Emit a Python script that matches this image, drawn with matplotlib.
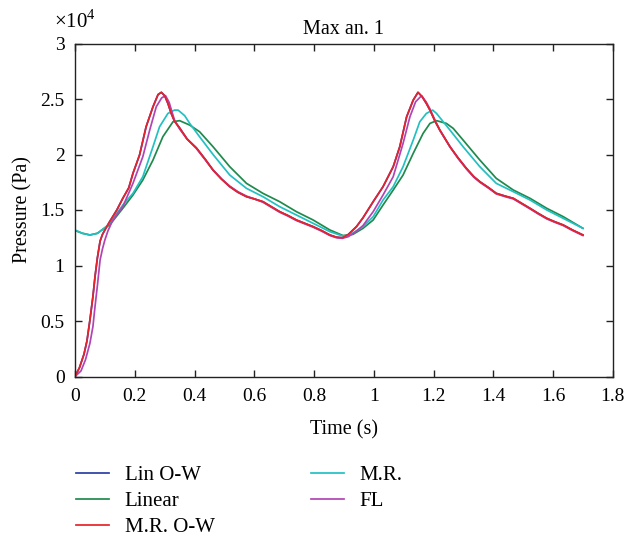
import numpy as np
import matplotlib
matplotlib.use("Agg")
import matplotlib.pyplot as plt
from matplotlib.ticker import FixedLocator

plt.rcParams['font.family'] = ['Liberation Serif', 'DejaVu Serif']
plt.rcParams['mathtext.fontset'] = 'custom'
plt.rcParams['mathtext.rm'] = 'Liberation Serif'

title = "Max an. 1"
xlabel = "Time (s)"
ylabel = "Pressure (Pa)"
series_names = ["Lin O-W", "Linear", "M.R. O-W", "M.R.", "FL"]

# M.R. O-W (values in 1e4 Pa)
t_mrow = [0, 0.015, 0.03, 0.04, 0.05, 0.06, 0.067, 0.075, 0.084, 0.092, 0.10, 0.116,
          0.14, 0.16, 0.18, 0.194, 0.216, 0.238, 0.261, 0.278, 0.289, 0.30, 0.311,
          0.322, 0.333, 0.35, 0.375, 0.406, 0.435, 0.462, 0.49, 0.518, 0.545, 0.574,
          0.60, 0.629, 0.657, 0.685, 0.713, 0.741, 0.769, 0.797, 0.825, 0.853, 0.875,
          0.895, 0.915, 0.942, 0.964, 0.998, 1.031, 1.065, 1.087, 1.11, 1.132, 1.148,
          1.162, 1.176, 1.188, 1.205, 1.221, 1.255, 1.282, 1.31, 1.335, 1.355, 1.385,
          1.41, 1.44, 1.467, 1.495, 1.523, 1.55, 1.579, 1.605, 1.634, 1.665, 1.70]
p_mrow = [0, 0.08, 0.20, 0.32, 0.51, 0.72, 0.90, 1.07, 1.22, 1.28, 1.32, 1.395,
          1.50, 1.605, 1.70, 1.83, 1.995, 2.25, 2.43, 2.54, 2.56, 2.53, 2.46,
          2.37, 2.30, 2.24, 2.14, 2.06, 1.96, 1.86, 1.78, 1.71, 1.66, 1.62,
          1.60, 1.575, 1.53, 1.485, 1.45, 1.41, 1.38, 1.35, 1.315, 1.275, 1.255,
          1.25, 1.28, 1.35, 1.43, 1.575, 1.71, 1.89, 2.07, 2.34, 2.49, 2.56,
          2.52, 2.46, 2.40, 2.30, 2.22, 2.07, 1.97, 1.875, 1.80, 1.755, 1.70,
          1.65, 1.625, 1.605, 1.56, 1.515, 1.47, 1.425, 1.395, 1.365, 1.32, 1.275]

# Lin O-W (coincides with M.R. O-W and is hidden below it)
t_linow = list(t_mrow)
p_linow = list(p_mrow)

# FL
t_fl = [0, 0.02, 0.035, 0.05, 0.06, 0.067, 0.075, 0.084, 0.092, 0.10, 0.11, 0.125,
        0.14, 0.16, 0.194, 0.227, 0.25, 0.272, 0.29, 0.303, 0.315, 0.333, 0.35,
        0.375, 0.406, 0.435, 0.462, 0.49, 0.518, 0.545, 0.574, 0.60, 0.629, 0.657,
        0.685, 0.713, 0.741, 0.769, 0.797, 0.825, 0.853, 0.875, 0.895, 0.915, 0.942,
        0.964, 0.998, 1.031, 1.065, 1.098, 1.121, 1.14, 1.16, 1.176, 1.188, 1.205,
        1.221, 1.255, 1.282, 1.31, 1.335, 1.355, 1.385, 1.41, 1.44, 1.467, 1.495,
        1.523, 1.55, 1.579, 1.605, 1.634, 1.665, 1.70]
p_fl = [0, 0.05, 0.15, 0.30, 0.45, 0.63, 0.82, 1.05, 1.15, 1.23, 1.31, 1.40,
        1.46, 1.53, 1.74, 1.98, 2.22, 2.43, 2.51, 2.53, 2.47, 2.31, 2.23,
        2.14, 2.055, 1.955, 1.86, 1.78, 1.715, 1.665, 1.625, 1.60, 1.57, 1.525,
        1.48, 1.445, 1.405, 1.375, 1.345, 1.31, 1.27, 1.25, 1.245, 1.26, 1.31,
        1.36, 1.485, 1.635, 1.80, 2.10, 2.34, 2.475, 2.53, 2.47, 2.41, 2.31,
        2.22, 2.07, 1.965, 1.87, 1.795, 1.75, 1.695, 1.645, 1.62, 1.60, 1.555,
        1.51, 1.465, 1.42, 1.39, 1.36, 1.315, 1.27]

# M.R.
t_mr = [0, 0.025, 0.05, 0.075, 0.10, 0.116, 0.16, 0.194, 0.227, 0.261, 0.283, 0.311,
        0.333, 0.345, 0.367, 0.384, 0.417, 0.462, 0.518, 0.574, 0.629, 0.685, 0.741,
        0.797, 0.853, 0.897, 0.92, 0.964, 0.998, 1.031, 1.065, 1.098, 1.132, 1.154,
        1.176, 1.197, 1.21, 1.255, 1.299, 1.355, 1.41, 1.467, 1.523, 1.579, 1.634, 1.70]
p_mr = [1.32, 1.29, 1.275, 1.29, 1.34, 1.38, 1.545, 1.65, 1.80, 2.07, 2.25, 2.37,
        2.40, 2.40, 2.35, 2.28, 2.16, 2.00, 1.815, 1.695, 1.62, 1.53, 1.455,
        1.38, 1.305, 1.265, 1.275, 1.35, 1.44, 1.59, 1.71, 1.89, 2.13, 2.295,
        2.37, 2.40, 2.37, 2.22, 2.07, 1.89, 1.74, 1.665, 1.59, 1.50, 1.425, 1.335]

# Linear
t_lin = [0, 0.025, 0.05, 0.075, 0.10, 0.116, 0.16, 0.194, 0.227, 0.261, 0.294, 0.328,
         0.35, 0.384, 0.417, 0.462, 0.518, 0.574, 0.629, 0.685, 0.741, 0.797, 0.853,
         0.897, 0.93, 0.964, 0.998, 1.031, 1.065, 1.098, 1.132, 1.165, 1.188, 1.21,
         1.243, 1.266, 1.299, 1.355, 1.41, 1.467, 1.523, 1.579, 1.634, 1.70]
p_lin = [1.315, 1.29, 1.275, 1.29, 1.34, 1.365, 1.515, 1.635, 1.77, 1.95, 2.16, 2.295,
         2.305, 2.265, 2.205, 2.07, 1.89, 1.74, 1.65, 1.575, 1.485, 1.41, 1.32,
         1.27, 1.28, 1.335, 1.41, 1.545, 1.68, 1.815, 2.01, 2.19, 2.28, 2.305,
         2.28, 2.235, 2.13, 1.95, 1.785, 1.68, 1.605, 1.515, 1.44, 1.335]

x_ticks = [0, 0.2, 0.4, 0.6, 0.8, 1, 1.2, 1.4, 1.6, 1.8]
x_tick_labels = ["0", "0.2", "0.4", "0.6", "0.8", "1", "1.2", "1.4", "1.6", "1.8"]
y_ticks = [0, 0.5, 1, 1.5, 2, 2.5, 3]
y_tick_labels = ["0", "0.5", "1", "1.5", "2", "2.5", "3"]
scale = 1e4

colors = {"Lin O-W": "#2a3ea6", "Linear": "#1f8a4c", "M.R. O-W": "#e8222a",
          "M.R.": "#22c0c2", "FL": "#b044b4"}

fig = plt.figure(figsize=(6.26, 5.39), dpi=100)
ax = fig.add_axes([75 / 626, 1 - 376.5 / 539, (612.8 - 75) / 626, (376.5 - 43.5) / 539])

data = {"Lin O-W": (t_linow, p_linow), "Linear": (t_lin, p_lin),
        "M.R. O-W": (t_mrow, p_mrow), "M.R.": (t_mr, p_mr), "FL": (t_fl, p_fl)}
handles = {}
for name in ["Lin O-W", "Linear", "M.R.", "FL", "M.R. O-W"]:
    t, p = data[name]
    h, = ax.plot(t, np.array(p) * scale, color=colors[name], lw=1.25, label=name)
    handles[name] = h

ax.set_xlim(0, 1.8)
ax.set_ylim(0, 3 * scale)
ax.xaxis.set_major_locator(FixedLocator(x_ticks))
ax.set_xticklabels(x_tick_labels)
ax.yaxis.set_major_locator(FixedLocator([v * scale for v in y_ticks]))
ax.set_yticklabels(y_tick_labels)
ax.tick_params(direction='in', length=5, width=1.0, top=True, right=True,
               labelsize=14, colors='#222222', labelcolor='black')
ax.tick_params(axis='x', pad=8.5)
ax.tick_params(axis='y', pad=7.5)
for s in ax.spines.values():
    s.set_linewidth(1.0)
    s.set_color('#222222')

ax.set_title(title, fontsize=14.5, pad=7)
ax.set_xlabel(xlabel, fontsize=14.5, labelpad=11)
ax.set_ylabel(ylabel, fontsize=14.5, labelpad=6)
ax.text(0.0, 1.032, r'$\times 10^4$', transform=ax.transAxes, ha='center',
        va='bottom', fontsize=15)

fig.legend([handles[n] for n in series_names], series_names, ncol=2,
           loc='upper left', bbox_to_anchor=(57 / 626, 1 - 447 / 539),
           frameon=False, fontsize=15, handlelength=1.6, handletextpad=0.75,
           columnspacing=4.6, labelspacing=0.3)

fig.savefig("out.png", dpi=100)
